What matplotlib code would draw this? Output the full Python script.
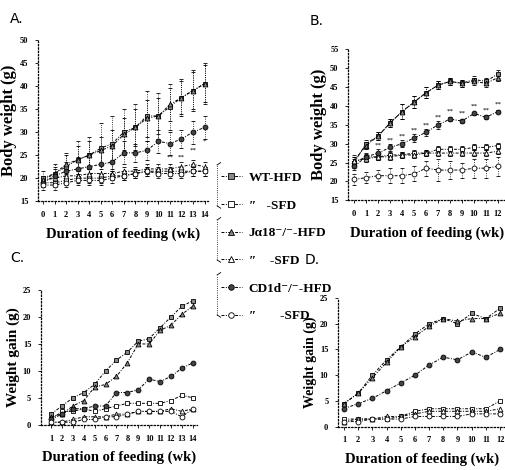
import matplotlib
matplotlib.use('Agg')
import matplotlib.pyplot as plt
from matplotlib.lines import Line2D

plt.rcParams['font.family'] = ['Liberation Serif', 'DejaVu Serif']

# ---- panel A: body weight, weeks 0..14 ----
wk_a = list(range(0, 15))
a_wt_hfd = [20, 21, 22.5, 24, 25, 26.5, 27.5, 30, 31, 33.5, 33.5, 35.5, 37.5, 39, 40.5]
a_wt_sfd = [19, 19, 19.5, 20, 20, 20, 20.5, 20.5, 21, 21.5, 21.5, 21.5, 21.5, 21.5, 21.5]
a_ja_hfd = [19.5, 21, 23, 24, 25, 26, 27, 29.5, 31, 33, 33.5, 36, 37.5, 39, 40.5]
a_ja_sfd = [19.5, 20, 20.5, 20.5, 21, 21, 21, 21.5, 21.5, 22, 22, 22, 22.5, 23, 22.5]
a_cd_hfd = [19, 20.5, 21.5, 22, 22.5, 23, 23.5, 25.5, 25.5, 26, 28, 27.5, 28.5, 30, 31]
a_cd_sfd = [18.5, 18.5, 19, 19.5, 19.5, 19.5, 20, 20.5, 21, 21.5, 21, 21, 21, 21.5, 21.5]
a_err_wt = [1.5, 2, 3, 4, 4, 5.5, 6, 5, 5, 5.5, 5, 5, 4, 4.5, 4.5]
a_err_ja = [1, 1.5, 2, 3, 3, 3, 3.5, 3.5, 4, 4, 4, 3.5, 3.5, 4, 4]
a_err_cd = [1, 1.5, 2, 2.5, 3, 3, 3, 2.5, 2, 2, 2.5, 2.5, 2, 2.5, 2.5]
a_err_sfd = [1, 1, 1, 1, 1, 1, 1, 1, 1, 1, 1, 1, 1, 1, 1]
a_star_wk = [11, 12, 13, 14]
a_star_y = [24.5, 24.5, 26, 28]
a_star_txt = ['**', '**', '**', '*']

# ---- panel B: body weight, weeks 0..12 ----
wk_b = list(range(0, 13))
b_wt_hfd = [25, 30, 32, 35.5, 38.5, 41, 43.5, 45.5, 46.5, 46, 47, 46.5, 48.5]
b_wt_sfd = [25, 26.5, 26.5, 27, 27, 27.5, 27.5, 28.5, 28.5, 28.5, 29, 29, 29.5]
b_ja_hfd = [25.5, 29.5, 32, 35.5, 38.5, 41, 43.5, 45.5, 46.5, 46, 46.5, 46, 47.5]
b_ja_sfd = [25.5, 26, 26.5, 26.5, 27, 27, 27.5, 27.5, 27.5, 27.5, 27.5, 27.5, 28]
b_cd_hfd = [24, 26.5, 27.5, 29, 30, 31.5, 33, 35, 36.5, 36, 38, 37, 38.5]
b_cd_sfd = [20.5, 21, 21.5, 21.5, 21.5, 22, 23.5, 23, 23, 23, 23.5, 23.5, 24]
b_err_hfd = [1.5, 1, 1, 1, 2, 1.5, 1.5, 1, 1, 1, 1, 1, 1]
b_err_cd = [1, 1, 1, 1, 1, 1, 1, 1, 0.5, 0.5, 0.5, 0.5, 0.5]
b_err_sfd = [1, 0.8, 0.8, 0.8, 0.8, 0.8, 0.8, 0.8, 0.8, 0.8, 0.8, 0.8, 0.8]
b_err_cd_sfd = [1.5, 1.5, 1.5, 2, 2, 2, 2, 3, 2.5, 2, 2.5, 2.5, 2.5]
b_star_wk = list(range(1, 13))

# ---- panel C: weight gain, weeks 1..14 ----
wk_c = list(range(1, 15))
c_wt_hfd = [2, 3.5, 5, 6, 7.5, 10, 12, 13.5, 15.5, 16, 18, 20, 22, 23]
c_wt_sfd = [1, 2.5, 2.5, 3, 2.5, 3, 3.5, 4, 4, 4, 4, 4.5, 5.5, 5]
c_ja_hfd = [1.5, 2, 3.5, 4.5, 7, 7.5, 9, 11.5, 15, 15, 17.5, 18.5, 20.5, 22]
c_ja_sfd = [0.5, 0.5, 1, 1.5, 1.5, 1.5, 2, 2, 2.5, 2.5, 2.5, 3, 2.5, 3]
c_cd_hfd = [1, 2, 3, 3, 3.5, 3.5, 6, 6, 6.5, 8.5, 8, 9, 10.5, 11.5]
c_cd_sfd = [0.5, 0.5, 0.5, 1, 1, 1.5, 1.5, 2, 2.5, 2.5, 2.5, 2.5, 1.5, 3]

# ---- panel D: weight gain, weeks 1..12 ----
wk_d = list(range(1, 13))
d_wt_hfd = [4.5, 6.5, 10, 13, 15.5, 18, 20, 21, 20, 22, 21, 23]
d_wt_sfd = [1.5, 1.5, 1.5, 1.5, 2, 3, 3.5, 3.5, 3.5, 3.5, 3.5, 5]
d_ja_hfd = [4.5, 6.5, 9.5, 12.5, 15.5, 17.5, 19.5, 21, 20.5, 21, 21, 22]
d_ja_sfd = [1, 1.5, 1.5, 2, 2, 2.5, 3, 3, 3, 3, 3, 3.5]
d_cd_hfd = [3.5, 4.5, 5.5, 7, 8.5, 10, 12, 13.5, 13, 14.5, 13.5, 15]
d_cd_sfd = [1, 1, 1.5, 1.5, 1.5, 2, 2, 2, 2, 2.5, 2.5, 2.5]

labels = ['WT-HFD', '\u2033   -SFD', 'J\u03b118\u207b/\u207b-HFD',
          '\u2033    -SFD', 'CD1d\u207b/\u207b-HFD', '\u2033       -SFD']

ls = (0, (3, 1.5, 1, 1.5))
styles = [
    dict(marker='s', mfc='#888888', mec='black'),
    dict(marker='s', mfc='white', mec='black'),
    dict(marker='^', mfc='#888888', mec='black'),
    dict(marker='^', mfc='white', mec='black'),
    dict(marker='o', mfc='#444444', mec='black'),
    dict(marker='o', mfc='white', mec='black'),
]


def style_axes(ax, xt, yt, xlim, ylim, ylabel, ysize):
    ax.set_xlim(*xlim)
    ax.set_ylim(*ylim)
    ax.set_xticks(xt)
    ax.set_yticks(yt)
    ax.set_xticklabels([str(v) for v in xt], fontsize=6, fontweight='bold')
    ax.set_yticklabels([str(v) for v in yt], fontsize=6, fontweight='bold')
    for s in ['top', 'right']:
        ax.spines[s].set_visible(False)
    for s in ['left', 'bottom']:
        ax.spines[s].set_linestyle(':')
        ax.spines[s].set_linewidth(0.9)
    ax.tick_params(length=2, width=0.6, pad=5)
    ax.set_ylabel(ylabel, fontsize=ysize, fontweight='bold', labelpad=2)
    ax.set_xlabel('Duration of feeding (wk)', fontsize=10.5, fontweight='bold',
                  labelpad=6)


def draw(ax, x, series, errs=None):
    for i, y in enumerate(series):
        kw = dict(styles[i])
        if errs is not None and errs[i] is not None:
            eb = ax.errorbar(x, y, yerr=errs[i], color='black', lw=0.7, ls=ls,
                             ms=3.5, mew=0.6, capsize=1.5, elinewidth=0.6, **kw)
            for b in eb[2]:
                b.set_linestyle(':')
        else:
            ax.plot(x, y, color='black', lw=0.7, ls=ls, ms=3.5, mew=0.6, **kw)


fig = plt.figure(figsize=(5.06, 4.70), dpi=100)

axA = fig.add_axes([0.075, 0.572, 0.336, 0.343])
draw(axA, wk_a, [a_wt_hfd, a_wt_sfd, a_ja_hfd, a_ja_sfd, a_cd_hfd, a_cd_sfd],
     [a_err_wt, a_err_sfd, a_err_ja, a_err_sfd, a_err_cd, a_err_sfd])
for w, y, t in zip(a_star_wk, a_star_y, a_star_txt):
    axA.text(w, y, t, fontsize=5, ha='center', va='center')
style_axes(axA, wk_a, list(range(15, 51, 5)), (-0.45, 14.3), (15, 50),
           'Body weight (g)', 12)

axB = fig.add_axes([0.688, 0.574, 0.312, 0.321])
draw(axB, wk_b, [b_wt_hfd, b_wt_sfd, b_ja_hfd, b_ja_sfd, b_cd_hfd, b_cd_sfd],
     [b_err_hfd, b_err_sfd, b_err_hfd, b_err_sfd, b_err_cd, b_err_cd_sfd])
for w in b_star_wk:
    axB.text(w, b_cd_hfd[w] + 2, '**', fontsize=5, ha='center', va='center')
style_axes(axB, wk_b, list(range(15, 56, 5)), (-0.5, 12.67), (15, 55),
           'Body weight (g)', 12)

axC = fig.add_axes([0.081, 0.096, 0.308, 0.287])
draw(axC, wk_c, [c_wt_hfd, c_wt_sfd, c_ja_hfd, c_ja_sfd, c_cd_hfd, c_cd_sfd])
style_axes(axC, wk_c, list(range(0, 26, 5)), (0.08, 14.37), (0, 25),
           'Weight gain (g)', 11)

axD = fig.add_axes([0.668, 0.092, 0.332, 0.274])
draw(axD, wk_d, [d_wt_hfd, d_wt_sfd, d_ja_hfd, d_ja_sfd, d_cd_hfd, d_cd_sfd])
style_axes(axD, wk_d, list(range(0, 26, 5)), (0.58, 12.42), (0, 25),
           'Weight gain (g)', 10)

# panel letters
for x, y, t in [(0.02, 0.96, 'A.'), (0.612, 0.955, 'B.'),
                (0.02, 0.45, 'C.'), (0.603, 0.447, 'D.')]:
    fig.text(x, y, t, fontsize=10, family='DejaVu Sans', va='center')

# legend
handles = [Line2D([], [], color='black', lw=0.7, ls=ls, ms=4, mew=0.6, **s)
           for s in styles]
fig.legend(handles, labels, loc='upper left', bbox_to_anchor=(0.413, 0.66),
           frameon=False, prop={'weight': 'bold', 'size': 9.5},
           handlelength=1.6, handletextpad=0.5, labelspacing=1.17)

# brackets grouping legend pairs
for y0, y1 in [(0.649, 0.562), (0.532, 0.447), (0.415, 0.330)]:
    fig.add_artist(Line2D([0.429, 0.429], [y1, y0], transform=fig.transFigure,
                          color='black', lw=0.6, ls=':'))
    fig.add_artist(Line2D([0.429, 0.436], [y0, y0 + 0.005],
                          transform=fig.transFigure, color='black', lw=0.6))
    fig.add_artist(Line2D([0.429, 0.436], [y1, y1 - 0.005],
                          transform=fig.transFigure, color='black', lw=0.6))

fig.savefig('out.png', dpi=100)
